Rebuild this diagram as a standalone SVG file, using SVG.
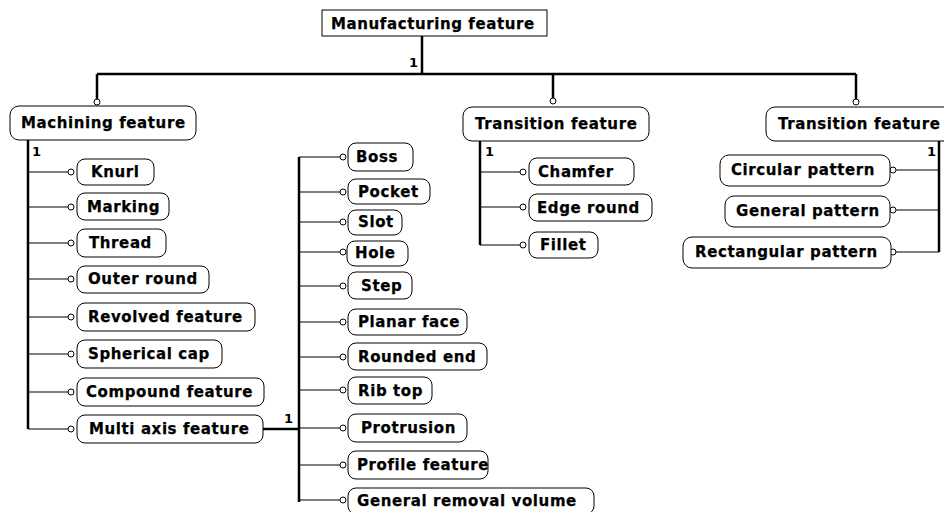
<svg xmlns="http://www.w3.org/2000/svg" width="944" height="512" viewBox="0 0 944 512">
<style>
.bg{fill:#fff}
.box{fill:#fff;stroke:#000;stroke-width:1}
.t{font-family:"DejaVu Sans","Verdana",sans-serif;font-weight:bold;font-size:15px;letter-spacing:0.6px;fill:#000;stroke:#000;stroke-width:0.25}
.n{font-family:"DejaVu Sans","Verdana",sans-serif;font-weight:bold;font-size:13px;fill:#000}
.thick{stroke:#000;stroke-width:2.5;fill:none}
.thin{stroke:#000;stroke-width:1;fill:none}
.c{fill:#fff;stroke:#000;stroke-width:1}
</style>
<rect class="bg" x="0" y="0" width="944" height="512"/>
<g id="connectors">
  <path class="thick" d="M422,36 V74 M97,74 H856 M97,74 V99 M553,74 V98 M856,74 V99"/>
  <circle class="c" cx="97" cy="102" r="3"/>
  <circle class="c" cx="553" cy="101" r="3"/>
  <circle class="c" cx="856" cy="102" r="3"/>
  <text class="n" x="409" y="67">1</text>
  <!-- machining -->
  <path class="thick" d="M28,140 V429"/>
  <text class="n" x="32" y="156">1</text>
  <path class="thin" d="M28,172 H68 M28,207 H68 M28,243 H68 M28,279 H68 M28,317 H68 M28,354 H68 M28,392 H68 M28,429 H68"/>
  <g>
    <circle class="c" cx="71" cy="172" r="3"/><circle class="c" cx="71" cy="207" r="3"/><circle class="c" cx="71" cy="243" r="3"/><circle class="c" cx="71" cy="279" r="3"/>
    <circle class="c" cx="71" cy="317" r="3"/><circle class="c" cx="71" cy="354" r="3"/><circle class="c" cx="71" cy="392" r="3"/><circle class="c" cx="71" cy="429" r="3"/>
  </g>
  <!-- multi axis -->
  <path class="thick" d="M263,429 H299 M299,157 V502"/>
  <text class="n" x="284" y="423">1</text>
  <path class="thin" d="M299,157 H340 M299,192 H340 M299,222 H340 M299,252 H340 M299,286 H340 M299,322 H340 M299,357 H340 M299,390 H340 M299,428 H340 M299,465 H340 M299,500 H340"/>
  <g>
    <circle class="c" cx="343" cy="157" r="3"/><circle class="c" cx="343" cy="192" r="3"/><circle class="c" cx="343" cy="222" r="3"/><circle class="c" cx="343" cy="252" r="3"/>
    <circle class="c" cx="343" cy="286" r="3"/><circle class="c" cx="343" cy="322" r="3"/><circle class="c" cx="343" cy="357" r="3"/><circle class="c" cx="343" cy="390" r="3"/>
    <circle class="c" cx="343" cy="428" r="3"/><circle class="c" cx="343" cy="465" r="3"/><circle class="c" cx="343" cy="500" r="3"/>
  </g>
  <!-- transition mid -->
  <path class="thick" d="M480,141 V245"/>
  <text class="n" x="485" y="156">1</text>
  <path class="thin" d="M480,172 H520 M480,207 H520 M480,245 H520"/>
  <circle class="c" cx="523" cy="172" r="3"/><circle class="c" cx="523" cy="207" r="3"/><circle class="c" cx="523" cy="245" r="3"/>
  <!-- transition right -->
  <path class="thick" d="M939,141 V252"/>
  <text class="n" x="927" y="156">1</text>
  <path class="thin" d="M896,170 H939 M896,210 H939 M896,252 H939"/>
  <circle class="c" cx="893" cy="170" r="3"/><circle class="c" cx="893" cy="210" r="3"/><circle class="c" cx="893" cy="252" r="3"/>
</g>
<g id="manufacturing"><rect class="box" x="322" y="10" width="225" height="26"/><text class="t" x="331" y="29">Manufacturing feature</text></g>
<g id="machining"><rect class="box" x="10" y="106" width="186" height="34" rx="9"/><text class="t" x="21" y="128">Machining feature</text></g>
<g id="transition1"><rect class="box" x="463" y="107" width="186" height="34" rx="9"/><text class="t" x="475" y="129">Transition feature</text></g>
<g id="transition2"><rect class="box" x="766" y="107" width="190" height="34" rx="9"/><text class="t" x="778" y="129">Transition feature</text></g>

<g id="knurl"><rect class="box" x="77" y="159" width="77" height="26" rx="8"/><text class="t" x="91" y="177">Knurl</text></g>
<g id="marking"><rect class="box" x="77" y="193" width="92" height="27" rx="8"/><text class="t" x="87" y="212">Marking</text></g>
<g id="thread"><rect class="box" x="77" y="229" width="89" height="28" rx="8"/><text class="t" x="89" y="248">Thread</text></g>
<g id="outer-round"><rect class="box" x="77" y="266" width="132" height="27" rx="8"/><text class="t" x="88" y="284">Outer round</text></g>
<g id="revolved"><rect class="box" x="77" y="303" width="178" height="28" rx="8"/><text class="t" x="88" y="322">Revolved feature</text></g>
<g id="spherical"><rect class="box" x="77" y="340" width="145" height="28" rx="8"/><text class="t" x="88" y="359">Spherical cap</text></g>
<g id="compound"><rect class="box" x="77" y="378" width="187" height="28" rx="8"/><text class="t" x="86" y="397">Compound feature</text></g>
<g id="multi-axis"><rect class="box" x="77" y="415" width="186" height="28" rx="8"/><text class="t" x="89" y="434">Multi axis feature</text></g>

<g id="boss"><rect class="box" x="348" y="143" width="65" height="28" rx="8"/><text class="t" x="356" y="162">Boss</text></g>
<g id="pocket"><rect class="box" x="348" y="179" width="82" height="25" rx="8"/><text class="t" x="358" y="197">Pocket</text></g>
<g id="slot"><rect class="box" x="348" y="210" width="54" height="25" rx="8"/><text class="t" x="358" y="227">Slot</text></g>
<g id="hole"><rect class="box" x="347" y="241" width="61" height="25" rx="8"/><text class="t" x="355" y="258">Hole</text></g>
<g id="step"><rect class="box" x="348" y="272" width="64" height="27" rx="8"/><text class="t" x="361" y="291">Step</text></g>
<g id="planar-face"><rect class="box" x="348" y="309" width="119" height="26" rx="8"/><text class="t" x="358" y="327">Planar face</text></g>
<g id="rounded-end"><rect class="box" x="348" y="343" width="139" height="27" rx="8"/><text class="t" x="358" y="362">Rounded end</text></g>
<g id="rib-top"><rect class="box" x="348" y="377" width="84" height="27" rx="8"/><text class="t" x="358" y="396">Rib top</text></g>
<g id="protrusion"><rect class="box" x="348" y="414" width="119" height="28" rx="8"/><text class="t" x="361" y="433">Protrusion</text></g>
<g id="profile-feature"><rect class="box" x="348" y="451" width="140" height="28" rx="8"/><text class="t" x="357" y="470">Profile feature</text></g>
<g id="general-removal"><rect class="box" x="348" y="488" width="246" height="26" rx="8"/><text class="t" x="357" y="506">General removal volume</text></g>

<g id="chamfer"><rect class="box" x="529" y="158" width="105" height="27" rx="8"/><text class="t" x="538" y="177">Chamfer</text></g>
<g id="edge-round"><rect class="box" x="529" y="194" width="123" height="27" rx="8"/><text class="t" x="537" y="213">Edge round</text></g>
<g id="fillet"><rect class="box" x="529" y="232" width="69" height="26" rx="8"/><text class="t" x="540" y="250">Fillet</text></g>

<g id="circular-pattern"><rect class="box" x="720" y="155" width="170" height="31" rx="9"/><text class="t" x="731" y="175">Circular pattern</text></g>
<g id="general-pattern"><rect class="box" x="725" y="196" width="165" height="31" rx="9"/><text class="t" x="736" y="216">General pattern</text></g>
<g id="rectangular-pattern"><rect class="box" x="683" y="237" width="208" height="31" rx="9"/><text class="t" x="695" y="257">Rectangular pattern</text></g>
</svg>
